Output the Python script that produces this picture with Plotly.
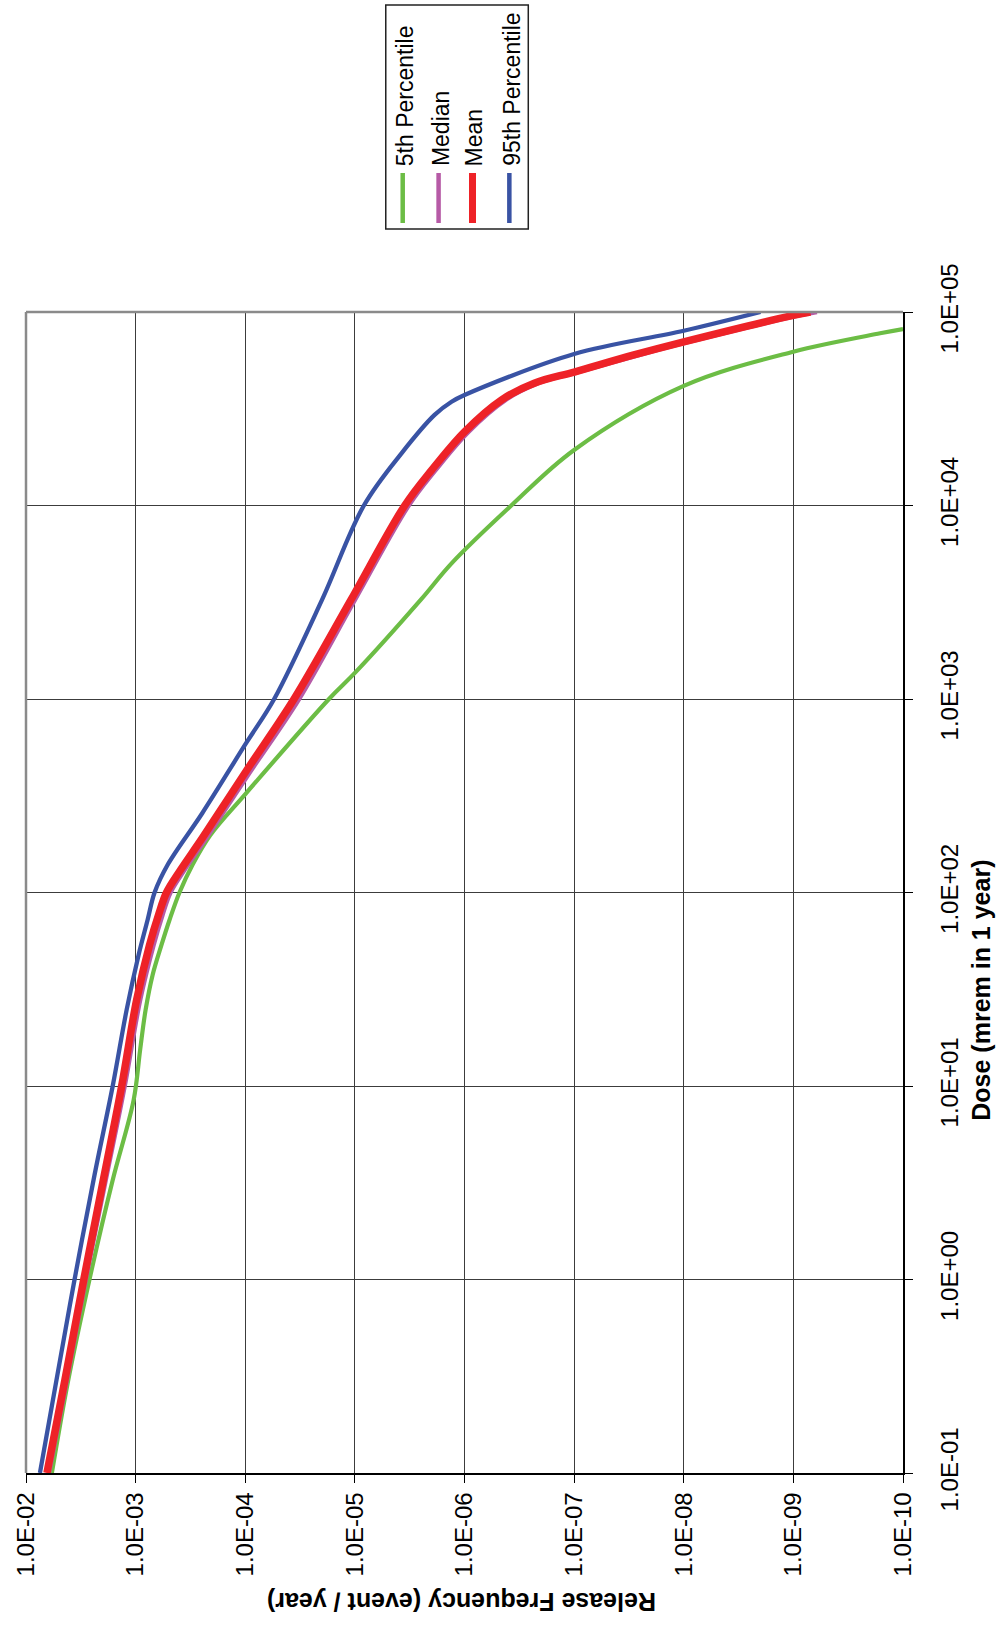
import plotly.graph_objects as go

# ---------------- data ----------------
# Dose (mrem in 1 year) and release frequency (event / year) for each curve
dose_p95 = [0.1, 0.296, 1, 3.467, 10, 24.72, 47.53, 72.11, 100, 138.7, 257.6, 592.9,
            1000, 3251, 10000, 18660, 29380, 34360, 37240, 60670, 79980, 100000]
freq_p95 = [7.464e-3, 5.309e-3, 3.606e-3, 2.371e-3, 1.618e-3, 1.208e-3, 9.397e-4,
            7.780e-4, 6.714e-4, 5.117e-4, 2.460e-4, 9.795e-5, 5.445e-5, 1.995e-5,
            8.279e-6, 3.741e-6, 1.875e-6, 1.312e-6, 1.0e-6, 1.0e-7, 1.0e-8, 1.995e-9]

dose_mean = [0.1, 0.3027, 1, 3.266, 10, 27.80, 53.58, 76.56, 100, 130.6, 191.4, 424.6,
             1000, 3251, 10000, 15240, 24040, 35080, 42850, 49090, 59980, 70310,
             96380, 100000]
freq_mean = [6.442e-3, 4.416e-3, 2.971e-3, 1.972e-3, 1.340e-3, 9.795e-4, 7.464e-4,
             6.180e-4, 5.224e-4, 3.899e-4, 2.460e-4, 9.795e-5, 3.589e-5, 1.086e-5,
             3.508e-6, 1.995e-6, 1.0e-6, 4.613e-7, 2.312e-7, 9.795e-8, 2.851e-8,
             9.795e-9, 9.795e-10, 6.998e-10]

dose_median = [0.1, 0.3027, 1, 3.266, 10, 27.80, 53.58, 76.56, 100, 130.6, 191.4, 424.6,
               1000, 3251, 10000, 15240, 24040, 35080, 42850, 49090, 59980, 70310,
               96380, 100000]
freq_median = [6.180e-3, 4.236e-3, 2.851e-3, 1.875e-3, 1.259e-3, 9.099e-4, 6.855e-4,
               5.689e-4, 4.808e-4, 3.589e-4, 2.265e-4, 8.913e-5, 3.228e-5, 1.0e-5,
               3.228e-6, 1.837e-6, 9.204e-7, 4.236e-7, 2.123e-7, 9.016e-8, 2.564e-8,
               8.810e-9, 8.630e-10, 6.095e-10]

dose_p05 = [0.1, 0.2951, 1, 3.266, 8.475, 15.35, 24.72, 37.50, 53.58, 72.11, 100, 138.7,
            198.2, 326.6, 1000, 1380, 3251, 5023, 10000, 19360, 41500, 62370, 77620,
            81660]
freq_p05 = [5.808e-3, 4.150e-3, 2.636e-3, 1.618e-3, 1.042e-3, 9.099e-4, 8.110e-4,
            6.998e-4, 5.808e-4, 4.909e-4, 3.981e-4, 3.034e-4, 2.080e-4, 9.795e-5,
            1.722e-5, 9.795e-6, 2.512e-6, 1.312e-6, 3.741e-7, 1.0e-7, 1.0e-8, 1.0e-9,
            1.618e-10, 1.0e-10]

freq_tickvals = [1e-2, 1e-3, 1e-4, 1e-5, 1e-6, 1e-7, 1e-8, 1e-9, 1e-10]
freq_ticktext = ["1.0E-02", "1.0E-03", "1.0E-04", "1.0E-05", "1.0E-06",
                 "1.0E-07", "1.0E-08", "1.0E-09", "1.0E-10"]
dose_tickvals = [1e-1, 1e0, 1e1, 1e2, 1e3, 1e4, 1e5]
dose_ticktext = ["1.0E-01", "1.0E+00", "1.0E+01", "1.0E+02", "1.0E+03",
                 "1.0E+04", "1.0E+05"]

series_names = ["5th Percentile", "Median", "Mean", "95th Percentile"]

# ---------------- layout constants ----------------
W, H = 1000, 1627
L, R, T, B = 23, 97, 312, 154
PW, PH = W - L - R, H - T - B
FONT = "Arial, Liberation Sans, Helvetica, sans-serif"

GREEN = "#6cbd45"
PURPLE = "#b65aa6"
RED = "#ee2227"
BLUE = "#3953a4"


def px(x):
    return (x - L) / PW


def py(y):
    return (H - B - y) / PH


fig = go.Figure()
styles = [
    (series_names[0], dose_p05, freq_p05, GREEN, 4.2),
    (series_names[1], dose_median, freq_median, PURPLE, 4.5),
    (series_names[2], dose_mean, freq_mean, RED, 7.5),
    (series_names[3], dose_p95, freq_p95, BLUE, 4.3),
]
for name, d, f, c, w in styles:
    fig.add_trace(go.Scatter(
        x=f, y=d, mode="lines", name=name,
        line=dict(color=c, width=w, shape="spline", smoothing=1.0),
        showlegend=False,
    ))

fig.update_layout(
    width=W, height=H,
    margin=dict(l=L, r=R, t=T, b=B, pad=0),
    paper_bgcolor="white", plot_bgcolor="white",
    font=dict(family=FONT, color="black", size=24),
    xaxis=dict(
        type="log", range=[-2, -10],
        tickmode="array", tickvals=freq_tickvals, ticktext=freq_ticktext,
        tickangle=-90, ticks="outside", ticklen=8, tickwidth=1.2, tickcolor="black",
        showgrid=True, gridcolor="#3c3c3c", gridwidth=1.3,
        showline=True, linecolor="black", linewidth=1.5,
        zeroline=False, tickfont=dict(size=24, family=FONT),
    ),
    yaxis=dict(
        type="log", range=[-1, 5], side="right",
        tickmode="array", tickvals=dose_tickvals, ticktext=dose_ticktext,
        tickangle=-90, ticks="outside", ticklen=8, tickwidth=1.2, tickcolor="black",
        ticklabelstandoff=16,
        showgrid=True, gridcolor="#3c3c3c", gridwidth=1.3,
        showline=True, linecolor="black", linewidth=1.5,
        zeroline=False, tickfont=dict(size=24, family=FONT),
    ),
)

shapes = [
    # gray frame on top and left
    dict(type="line", xref="paper", yref="paper", x0=0, x1=1, y0=1, y1=1,
         line=dict(color="#8a8a8a", width=2.5), layer="above"),
    dict(type="line", xref="paper", yref="paper", x0=0, x1=0, y0=0, y1=1,
         line=dict(color="#8a8a8a", width=2.5), layer="above"),
    # legend box
    dict(type="rect", xref="paper", yref="paper",
         x0=px(384), x1=px(527), y0=py(229), y1=py(5),
         line=dict(color="#222222", width=1.5), fillcolor="white"),
]
annotations = []
leg_x = [401, 437, 471, 508]
leg_w = [4.5, 4.5, 7, 4.5]
leg_c = [GREEN, PURPLE, RED, BLUE]
for name, x, c, w in zip(series_names, leg_x, leg_c, leg_w):
    shapes.append(dict(type="line", xref="paper", yref="paper",
                       x0=px(x), x1=px(x), y0=py(223), y1=py(173),
                       line=dict(color=c, width=w)))
    annotations.append(dict(xref="paper", yref="paper", x=px(x + 2), y=py(168),
                            text=name, showarrow=False, textangle=-90,
                            xanchor="center", yanchor="bottom",
                            font=dict(size=23, family=FONT, color="black")))

annotations.append(dict(xref="paper", yref="paper", x=px(460), y=py(1602),
                        text="<b>Release Frequency (event / year)</b>",
                        showarrow=False, textangle=180,
                        xanchor="center", yanchor="middle",
                        font=dict(size=25, family=FONT, color="black")))
annotations.append(dict(xref="paper", yref="paper", x=px(981), y=py(990),
                        text="<b>Dose (mrem in 1 year)</b>",
                        showarrow=False, textangle=-90,
                        xanchor="center", yanchor="middle",
                        font=dict(size=25, family=FONT, color="black")))

fig.update_layout(shapes=shapes, annotations=annotations)
fig.write_html("out.html",
               config={"displayModeBar": False},
               post_script="document.body.style.margin='0';"
                           "document.body.style.overflow='hidden';")
